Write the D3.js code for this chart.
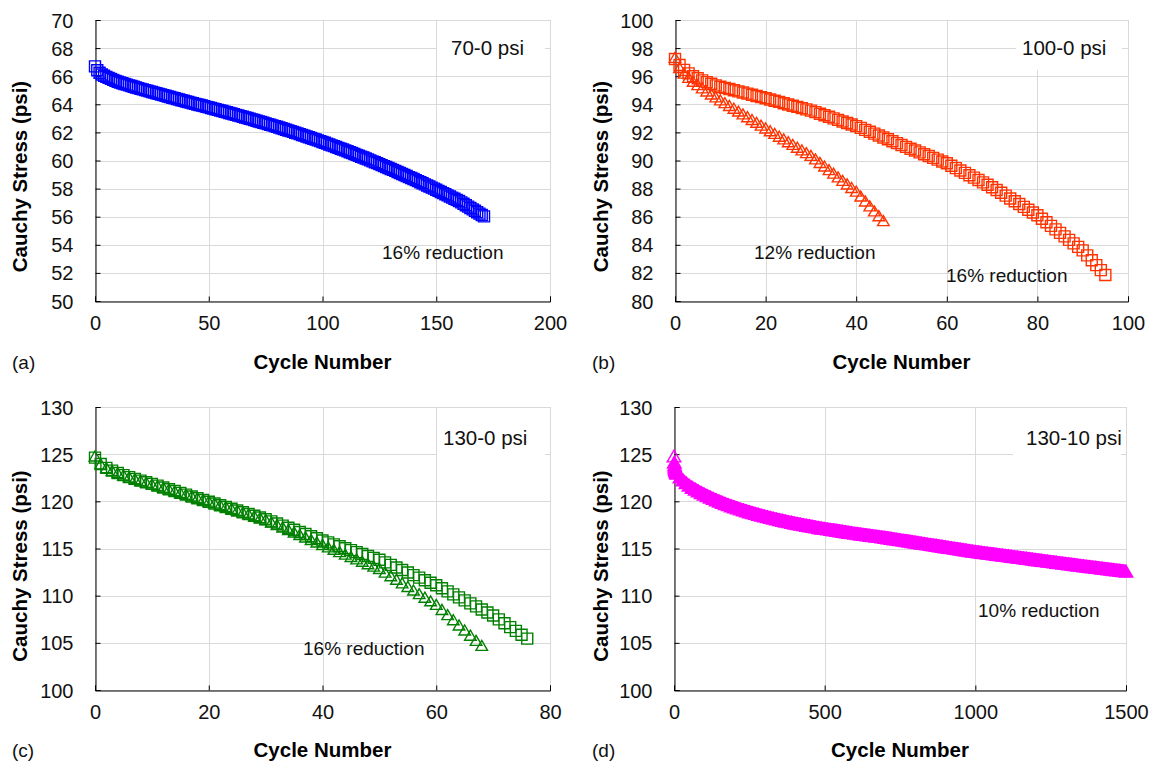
<!DOCTYPE html>
<html>
<head>
<meta charset="utf-8">
<script src="https://cdn.jsdelivr.net/npm/d3@7/dist/d3.min.js"></script>
<style>
  html, body { margin: 0; padding: 0; background: #fff; }
  svg { display: block; font-family: "Liberation Sans", Arial, sans-serif; }
</style>
</head>
<body>
<svg id="chart" width="1154" height="767"></svg>
<script>
// ---------------- DATA ----------------
// (a) 70-0 psi, cycle number = array index (0..171)
const aStress = [
  66.70,66.42,66.25,66.12,66.03,65.95,
  65.88,65.81,65.74,65.67,65.60,
  65.55,65.50,65.45,65.40,65.35,65.30,65.25,65.20,65.15,65.10,
  65.06,65.01,64.97,64.92,64.88,64.83,64.79,64.74,64.70,64.65,
  64.61,64.56,64.52,64.47,64.43,64.38,64.34,64.29,64.25,64.20,
  64.16,64.12,64.07,64.03,63.99,63.95,63.91,63.87,63.82,63.78,
  63.74,63.69,63.65,63.60,63.56,63.52,63.47,63.43,63.38,63.34,
  63.29,63.25,63.20,63.16,63.11,63.06,63.02,62.97,62.93,62.88,
  62.83,62.78,62.74,62.69,62.64,62.59,62.54,62.50,62.45,62.40,
  62.35,62.30,62.24,62.19,62.14,62.09,62.04,61.98,61.93,61.88,
  61.82,61.77,61.71,61.66,61.60,61.54,61.49,61.43,61.38,61.32,
  61.26,61.20,61.14,61.08,61.02,60.96,60.90,60.84,60.78,60.72,
  60.66,60.59,60.53,60.46,60.40,60.34,60.27,60.21,60.14,60.08,
  60.01,59.94,59.88,59.81,59.74,59.67,59.60,59.54,59.47,59.40,
  59.33,59.26,59.18,59.11,59.04,58.97,58.90,58.82,58.75,58.68,
  58.60,58.53,58.45,58.38,58.30,58.22,58.15,58.07,58.00,57.92,
  57.84,57.76,57.68,57.60,57.52,57.44,57.36,57.28,57.20,57.12,
  57.02,56.92,56.82,56.72,56.62,56.52,56.42,56.32,56.22,56.12,56.02
];

// (b) 100-0 psi, squares (16% reduction), cycle = index (0..95)
const bSquare = [
  97.22,96.80,96.45,96.20,96.00,95.85,95.70,95.58,95.46,95.35,95.25,
  95.17,95.09,95.00,94.92,94.84,94.76,94.68,94.59,94.51,94.43,
  94.34,94.25,94.17,94.08,93.99,93.90,93.82,93.73,93.64,93.55,
  93.44,93.33,93.22,93.11,93.00,92.89,92.78,92.67,92.56,92.45,
  92.32,92.18,92.05,91.91,91.78,91.64,91.51,91.37,91.24,91.10,
  90.97,90.84,90.71,90.58,90.45,90.32,90.19,90.06,89.93,89.80,
  89.63,89.46,89.29,89.12,88.95,88.78,88.61,88.44,88.27,88.10,
  87.90,87.70,87.50,87.30,87.10,86.90,86.70,86.50,86.30,86.10,
  85.85,85.60,85.35,85.10,84.85,84.60,84.35,84.10,83.85,83.60,
  83.25,82.90,82.55,82.20,81.85
];
// (b) triangles (12% reduction), cycle = index (0..46)
const bTriangle = [
  97.22,96.50,96.10,95.80,95.52,95.28,95.05,94.83,94.62,94.41,94.20,
  94.00,93.80,93.60,93.40,93.20,93.00,92.80,92.60,92.40,92.20,
  92.00,91.81,91.61,91.42,91.22,91.03,90.83,90.64,90.44,90.25,
  90.00,89.74,89.49,89.23,88.98,88.72,88.47,88.21,87.96,87.70,
  87.35,87.00,86.65,86.30,85.95,85.60
];

// (c) 130-0 psi, squares, cycle = index (0..76)
const cSquare = [
  124.63,123.95,123.55,123.25,123.00,122.78,122.57,122.38,122.20,122.02,121.85,
  121.66,121.47,121.28,121.09,120.90,120.71,120.52,120.33,120.14,119.95,
  119.77,119.58,119.40,119.21,119.03,118.84,118.66,118.47,118.29,118.10,
  117.88,117.65,117.43,117.20,116.98,116.75,116.53,116.30,116.08,115.85,
  115.65,115.44,115.24,115.03,114.83,114.62,114.42,114.21,114.01,113.80,
  113.53,113.26,112.99,112.72,112.45,112.18,111.91,111.64,111.37,111.10,
  110.78,110.46,110.14,109.82,109.50,109.18,108.86,108.54,108.22,107.90,
  107.49,107.08,106.67,106.27,105.86,105.45
];
// (c) triangles, cycle = index (0..68)
const cTriangle = [
  124.63,123.80,123.40,123.10,122.85,122.62,122.42,122.22,122.03,121.85,121.68,
  121.50,121.31,121.13,120.94,120.76,120.57,120.39,120.20,120.02,119.85,
  119.66,119.46,119.27,119.07,118.88,118.68,118.49,118.29,118.10,117.90,
  117.64,117.37,117.11,116.84,116.58,116.31,116.05,115.78,115.52,115.25,
  115.00,114.74,114.49,114.23,113.98,113.72,113.47,113.21,112.96,112.70,
  112.32,111.94,111.56,111.18,110.80,110.42,110.04,109.66,109.28,108.90,
  108.36,107.81,107.27,106.72,106.18,105.63,105.09,104.55
];

// (d) 130-10 psi
const dCycles = [
  0,1,2,3,4,5,6,7,8,9,
  10,20,30,40,50,60,70,80,90,100,110,120,130,140,150,160,170,180,190,200,
  210,220,230,240,250,260,270,280,290,300,310,320,330,340,350,360,370,380,390,400,
  410,420,430,440,450,460,470,480,490,500,510,520,530,540,550,560,570,580,590,600,
  610,620,630,640,650,660,670,680,690,700,710,720,730,740,750,760,770,780,790,800,
  810,820,830,840,850,860,870,880,890,900,910,920,930,940,950,960,970,980,990,1000,
  1010,1020,1030,1040,1050,1060,1070,1080,1090,1100,1110,1120,1130,1140,1150,1160,1170,1180,1190,1200,
  1210,1220,1230,1240,1250,1260,1270,1280,1290,1300,1310,1320,1330,1340,1350,1360,1370,1380,1390,1400,
  1410,1420,1430,1440,1450,1460,1470,1480,1490,1500
];
const dStress = [
  124.60,123.95,123.65,123.45,123.30,123.18,123.08,122.99,122.91,122.84,
  122.78,122.38,122.05,121.76,121.50,121.28,121.08,120.90,120.72,120.55,
  120.39,120.24,120.09,119.95,119.81,119.68,119.55,119.43,119.31,119.20,
  119.09,118.98,118.88,118.78,118.68,118.59,118.50,118.41,118.32,118.24,
  118.16,118.08,118.00,117.92,117.84,117.77,117.70,117.63,117.56,117.49,
  117.43,117.37,117.31,117.25,117.19,117.13,117.07,117.01,116.96,116.91,
  116.86,116.81,116.76,116.71,116.66,116.61,116.56,116.51,116.46,116.41,
  116.37,116.32,116.28,116.23,116.19,116.14,116.10,116.06,116.01,115.97,
  115.92,115.87,115.82,115.77,115.72,115.67,115.62,115.57,115.52,115.47,
  115.42,115.37,115.32,115.27,115.22,115.17,115.12,115.07,115.02,114.97,
  114.92,114.87,114.82,114.77,114.72,114.67,114.62,114.57,114.52,114.47,
  114.43,114.39,114.34,114.30,114.26,114.22,114.17,114.13,114.09,114.05,
  114.01,113.96,113.92,113.88,113.84,113.79,113.75,113.71,113.66,113.62,
  113.58,113.54,113.49,113.45,113.41,113.37,113.33,113.28,113.24,113.20,
  113.16,113.12,113.08,113.03,112.99,112.95,112.91,112.87,112.83,112.79,
  112.75,112.71,112.67,112.63,112.59,112.55,112.51,112.47,112.43,112.39
];

// tick values
const aXTicks = [0, 50, 100, 150, 200];
const aYTicks = [50, 52, 54, 56, 58, 60, 62, 64, 66, 68, 70];
const bXTicks = [0, 20, 40, 60, 80, 100];
const bYTicks = [80, 82, 84, 86, 88, 90, 92, 94, 96, 98, 100];
const cXTicks = [0, 20, 40, 60, 80];
const cYTicks = [100, 105, 110, 115, 120, 125, 130];
const dXTicks = [0, 500, 1000, 1500];
const dYTicks = [100, 105, 110, 115, 120, 125, 130];

// texts
const panelLabels = ["(a)", "(b)", "(c)", "(d)"];
const psiLabels = ["70-0 psi", "100-0 psi", "130-0 psi", "130-10 psi"];
const xTitle = "Cycle Number";
const yTitle = "Cauchy Stress (psi)";

// ---------------- LAYOUT ----------------
const FONT = "'Liberation Sans', Arial, sans-serif";
const svg = d3.select("#chart");
svg.append("rect").attr("width", 1154).attr("height", 767).attr("fill", "#fff");

const idx = arr => arr.map((_, i) => i);

const panels = [
  { label: panelLabels[0], psi: psiLabels[0],
    xr: [95, 550], yr: [301, 20], xd: [0, 200], yd: [50, 70], xt: aXTicks, yt: aYTicks,
    series: [{ x: idx(aStress), y: aStress, shape: "square", color: "#0000ff" }],
    box: [437, 21, 108, 49], psiPos: [451, 54.5],
    notes: [{ t: "16% reduction", x: 382, y: 258.8 }],
    labelPos: [12, 369], ytitle: [27, 176.5], xtitleY: 369 },
  { label: panelLabels[1], psi: psiLabels[1],
    xr: [675, 1128], yr: [301, 20], xd: [0, 100], yd: [80, 100], xt: bXTicks, yt: bYTicks,
    series: [
      { x: idx(bSquare), y: bSquare, shape: "square", color: "#ff3300" },
      { x: idx(bTriangle), y: bTriangle, shape: "triangle", color: "#ff3300" }],
    box: [1016, 21, 106, 49], psiPos: [1022, 54.5],
    notes: [{ t: "12% reduction", x: 754, y: 258.8 }, { t: "16% reduction", x: 946, y: 281.8 }],
    labelPos: [592, 369], ytitle: [608, 176.5], xtitleY: 369 },
  { label: panelLabels[2], psi: psiLabels[2],
    xr: [95, 550], yr: [690, 407], xd: [0, 80], yd: [100, 130], xt: cXTicks, yt: cYTicks,
    series: [
      { x: idx(cSquare), y: cSquare, shape: "square", color: "#008000" },
      { x: idx(cTriangle), y: cTriangle, shape: "triangle", color: "#008000" }],
    box: [437, 408, 108, 49], psiPos: [443, 444.5],
    notes: [{ t: "16% reduction", x: 303, y: 654.8 }],
    labelPos: [12, 757], ytitle: [27, 566], xtitleY: 757 },
  { label: panelLabels[3], psi: psiLabels[3],
    xr: [674, 1126], yr: [690, 407], xd: [0, 1500], yd: [100, 130], xt: dXTicks, yt: dYTicks,
    series: [{ x: dCycles, y: dStress, shape: "triangle", color: "#ff00ff", filled: true, size: 80 }],
    box: [1013, 408, 108, 49], psiPos: [1026, 444.5],
    notes: [{ t: "10% reduction", x: 978, y: 616.8 }],
    labelPos: [592, 757], ytitle: [608, 566], xtitleY: 757 }
];

panels.forEach(p => {
  const x = d3.scaleLinear().domain(p.xd).range(p.xr);
  const y = d3.scaleLinear().domain(p.yd).range(p.yr);
  const g = svg.append("g");

  // gridlines
  g.append("g").selectAll("line.h").data(p.yt).enter().append("line")
    .attr("x1", p.xr[0]).attr("x2", p.xr[1])
    .attr("y1", d => Math.round(y(d)) + 0.5).attr("y2", d => Math.round(y(d)) + 0.5)
    .attr("stroke", "#d9d9d9").attr("stroke-width", 1);
  g.append("g").selectAll("line.v").data(p.xt).enter().append("line")
    .attr("y1", p.yr[0]).attr("y2", p.yr[1])
    .attr("x1", d => Math.round(x(d)) + 0.5).attr("x2", d => Math.round(x(d)) + 0.5)
    .attr("stroke", "#d9d9d9").attr("stroke-width", 1);

  // white label box hiding grid
  g.append("rect").attr("x", p.box[0]).attr("y", p.box[1])
    .attr("width", p.box[2]).attr("height", p.box[3]).attr("fill", "#fff");

  // axes
  const xAxis = d3.axisBottom(x).tickValues(p.xt).tickSize(-5).tickFormat(d3.format("d")).tickPadding(14);
  const yAxis = d3.axisLeft(y).tickValues(p.yt).tickSize(-5).tickFormat(d3.format("d")).tickPadding(22);
  const gx = g.append("g").attr("transform", `translate(0,${Math.round(p.yr[0]) + 0.5})`).call(xAxis);
  const gy = g.append("g").attr("transform", `translate(${Math.round(p.xr[0]) + 0.5},0)`).call(yAxis);
  [gx, gy].forEach(a => {
    a.select(".domain").attr("stroke", "#000").attr("stroke-width", 1);
    a.selectAll(".tick line").attr("stroke", "#000").attr("stroke-width", 1);
    a.selectAll(".tick text").attr("font-family", FONT).attr("font-size", 20).attr("fill", "#111");
  });
  gx.selectAll(".tick text").attr("dy", "0.71em");
  gy.selectAll(".tick text").attr("dy", "0.35em");

  // markers
  p.series.forEach(s => {
    const size = s.size || (s.shape === "square" ? 121 : 58);
    const sym = s.shape === "square"
      ? d3.symbol().type(d3.symbolSquare).size(size)
      : d3.symbol().type(d3.symbolTriangle).size(size);
    if (s.filled) {
      // dense overlapping triangle markers merge into a solid band: fill the envelope
      const r = Math.sqrt(size / (Math.sqrt(3) * 3)); // d3 triangle half-height unit
      const pts = s.y.map((v, i) => [s.x[i], v]);
      const band = d3.area()
        .x(d => x(d[0]))
        .y0(d => y(d[1]) + r + 0.7)
        .y1(d => y(d[1]) - 2 * r - 0.7);
      g.append("path").datum(pts.slice(1)).attr("d", band).attr("fill", s.color);
    }
    g.append("g").selectAll("path").data(s.y).enter().append("path")
      .attr("d", sym)
      .attr("transform", (d, i) => `translate(${x(s.x[i])},${y(d)})`)
      .attr("fill", (d, i) => (s.filled && i > 0) ? s.color : "none")
      .attr("stroke", s.color).attr("stroke-width", 1.4);
  });

  // psi label
  g.append("text").attr("x", p.psiPos[0]).attr("y", p.psiPos[1])
    .attr("font-family", FONT).attr("font-size", 20.5).attr("fill", "#111").text(p.psi);
  // reduction notes
  p.notes.forEach(n => {
    g.append("text").attr("x", n.x).attr("y", n.y)
      .attr("font-family", FONT).attr("font-size", 19).attr("fill", "#111").text(n.t);
  });
  // axis titles
  g.append("text").attr("x", (p.xr[0] + p.xr[1]) / 2).attr("y", p.xtitleY)
    .attr("text-anchor", "middle").attr("font-family", FONT).attr("font-weight", "bold")
    .attr("font-size", 20.5).attr("fill", "#000").text(xTitle);
  g.append("text").attr("transform", `translate(${p.ytitle[0]},${p.ytitle[1]}) rotate(-90)`)
    .attr("text-anchor", "middle").attr("font-family", FONT).attr("font-weight", "bold")
    .attr("font-size", 20.5).attr("fill", "#000").text(yTitle);
  // panel label
  g.append("text").attr("x", p.labelPos[0]).attr("y", p.labelPos[1])
    .attr("font-family", FONT).attr("font-size", 19).attr("fill", "#111").text(p.label);
});
</script>
</body>
</html>
